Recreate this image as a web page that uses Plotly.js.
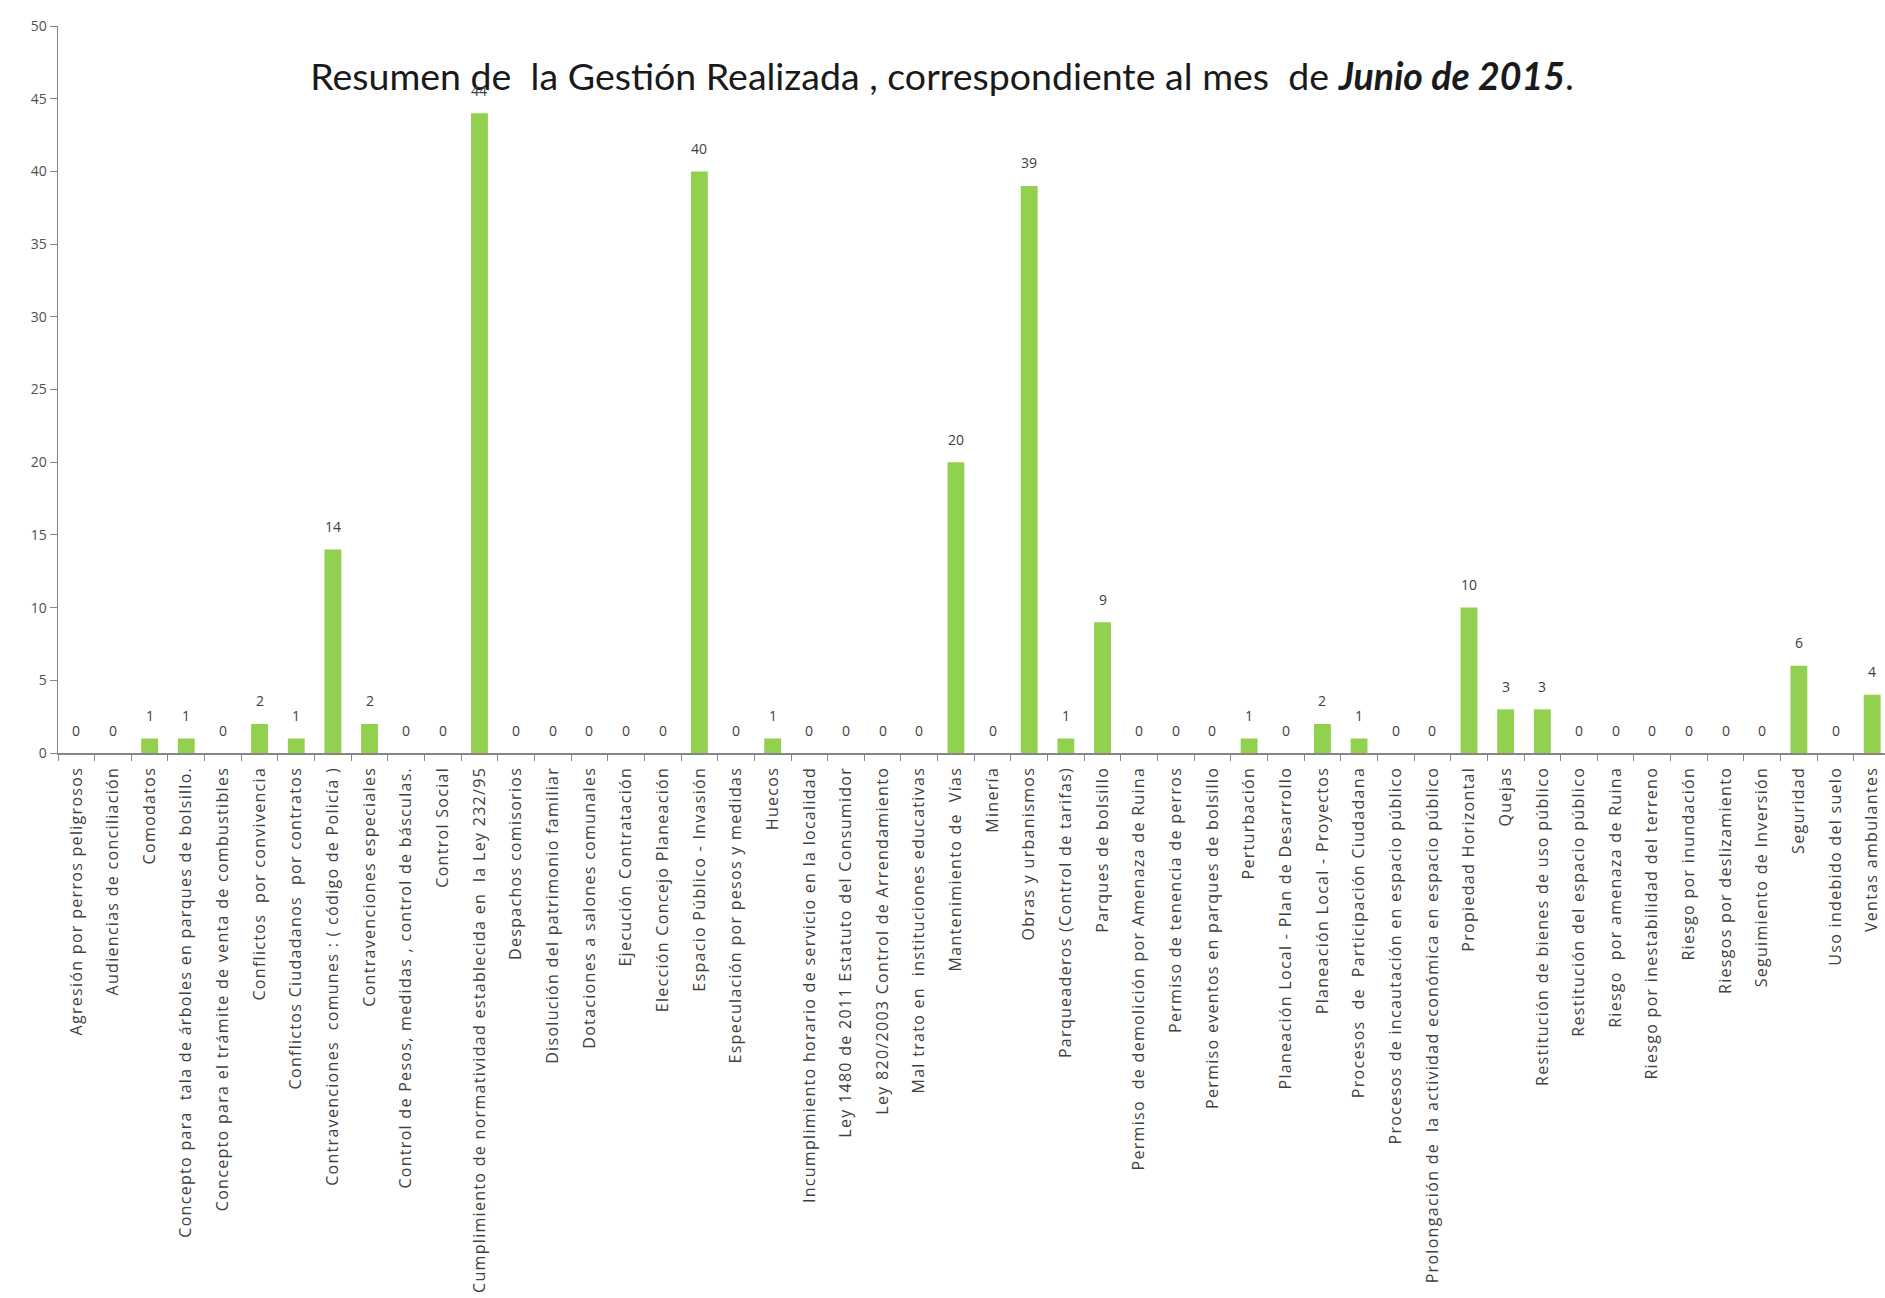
<!DOCTYPE html>
<html>
<head>
<meta charset="utf-8">
<script src="https://cdn.plot.ly/plotly-3.0.1.min.js"></script>
<style>
html,body{margin:0;padding:0;background:#fff;}
#chart{width:1885px;height:1298px;}
#chart .xtick text{letter-spacing:1.3px;}
</style>
</head>
<body>
<div id="chart"></div>
<script>
const categories = [
  "Agresión por perros peligrosos",
  "Audiencias de conciliación",
  "Comodatos",
  "Concepto para  tala de árboles en parques de bolsillo.",
  "Concepto para el trámite de venta de combustibles",
  "Conflictos  por convivencia",
  "Conflictos Ciudadanos  por contratos",
  "Contravenciones  comunes : ( código de Policía )",
  "Contravenciones especiales",
  "Control de Pesos, medidas , control de básculas.",
  "Control Social",
  "Cumplimiento de normatividad establecida en  la Ley 232/95",
  "Despachos comisorios",
  "Disolución del patrimonio familiar",
  "Dotaciones a salones comunales",
  "Ejecución Contratación",
  "Elección Concejo Planeación",
  "Espacio Público - Invasión",
  "Especulación por pesos y medidas",
  "Huecos",
  "Incumplimiento horario de servicio en la localidad",
  "Ley 1480 de 2011 Estatuto del Consumidor",
  "Ley 820/2003 Control de Arrendamiento",
  "Mal trato en  instituciones educativas",
  "Mantenimiento de  Vías",
  "Minería",
  "Obras y urbanismos",
  "Parqueaderos (Control de tarifas)",
  "Parques de bolsillo",
  "Permiso  de demolición por Amenaza de Ruina",
  "Permiso de tenencia de perros",
  "Permiso eventos en parques de bolsillo",
  "Perturbación",
  "Planeación Local - Plan de Desarrollo",
  "Planeación Local - Proyectos",
  "Procesos  de  Participación Ciudadana",
  "Procesos de incautación en espacio público",
  "Prolongación de  la actividad económica en espacio público",
  "Propiedad Horizontal",
  "Quejas",
  "Restitución de bienes de uso público",
  "Restitución del espacio público",
  "Riesgo  por amenaza de Ruina",
  "Riesgo por inestabilidad del terreno",
  "Riesgo por inundación",
  "Riesgos por deslizamiento",
  "Seguimiento de Inversión",
  "Seguridad",
  "Uso indebido del suelo",
  "Ventas ambulantes"
];
const values = [0,0,1,1,0,2,1,14,2,0,0,44,0,0,0,0,0,40,0,1,0,0,0,0,20,0,39,1,9,0,0,0,1,0,2,1,0,0,10,3,3,0,0,0,0,0,0,6,0,4];
const yTicks = [0,5,10,15,20,25,30,35,40,45,50];
const titleText = "Resumen de\u00a0 la Gestión Realizada , correspondiente al mes\u00a0 de <b><i>Junio de 2015</i></b>.";

const nbsp = s => s.replace(/  /g, "\u00a0 ");
const labels = categories.map(nbsp);

const trace = {
  type: "bar",
  x: labels,
  y: values,
  marker: {color: "#92D050", line: {width: 0}},
  hoverinfo: "x+y"
};

const annotations = labels.map((c, i) => ({
  x: c, y: values[i], xref: "x", yref: "y",
  text: String(values[i]), showarrow: false,
  yanchor: "middle", yshift: 23,
  font: {family: "Open Sans, sans-serif", size: 14, color: "#404040"}
}));

const layout = {
  width: 1885, height: 1298,
  margin: {l: 58, r: 0, t: 26, b: 545, pad: 0},
  paper_bgcolor: "#ffffff", plot_bgcolor: "#ffffff",
  showlegend: false,
  bargap: 0.54,
  title: {
    text: titleText,
    font: {family: "Lato, sans-serif", size: 37.5, color: "#1a1a1a"},
    xref: "container", x: 942/1885, xanchor: "center",
    yref: "container", y: 1 - 77/1298, yanchor: "middle"
  },
  xaxis: {
    type: "category",
    range: [-0.5, 49.35],
    tickangle: -90,
    tickfont: {family: "Open Sans, sans-serif", size: 16, color: "#404040"},
    ticklabelstandoff: 6,
    ticks: "outside", tickson: "boundaries", ticklen: 6, tickcolor: "#868686",
    showline: true, linecolor: "#868686", linewidth: 1.5,
    showgrid: false, zeroline: false, automargin: false,
    fixedrange: true
  },
  yaxis: {
    range: [0, 50],
    tickvals: yTicks,
    ticktext: yTicks.map(String),
    tickfont: {family: "Open Sans, sans-serif", size: 14, color: "#505050"},
    ticks: "outside", ticklen: 7, tickcolor: "#868686",
    showline: true, linecolor: "#868686", linewidth: 1.5,
    showgrid: false, zeroline: false, automargin: false,
    fixedrange: true
  },
  annotations: annotations
};

Plotly.newPlot("chart", [trace], layout, {displayModeBar: false, staticPlot: true});
</script>
</body>
</html>
